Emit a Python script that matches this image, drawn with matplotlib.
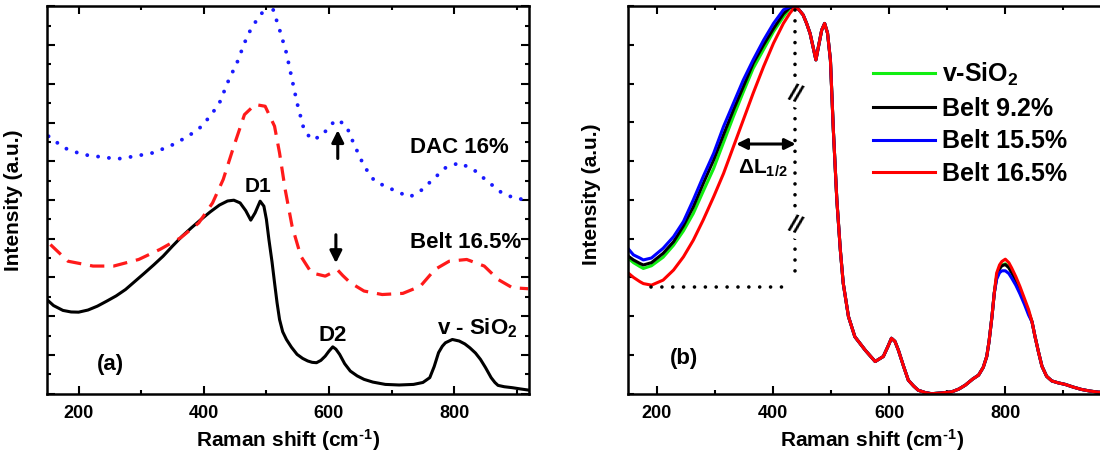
import numpy as np
import matplotlib
matplotlib.use("Agg")
import matplotlib.pyplot as plt
from matplotlib.ticker import MultipleLocator, NullFormatter

plt.rcParams['font.family'] = ['Liberation Sans', 'DejaVu Sans']
plt.rcParams['font.weight'] = 'bold'
plt.rcParams['mathtext.fontset'] = 'custom'
plt.rcParams['mathtext.rm'] = 'Liberation Sans:bold'
plt.rcParams['mathtext.it'] = 'Liberation Sans:bold'
plt.rcParams['mathtext.bf'] = 'Liberation Sans:bold'

# ---- panel (a) data ----
sio2_x = [149, 160, 175, 188, 200, 215, 230, 245, 260, 275, 290, 305, 320, 335, 350, 365, 380,
          395, 410, 425, 438, 448, 458, 467, 475, 482, 490, 496, 500, 504, 509, 513, 517, 521,
          526, 532, 540, 549, 558, 566, 573, 580, 587, 594, 600, 606, 611, 617, 625, 634, 645,
          656, 670, 690, 712, 735, 750, 761, 768, 775, 781, 786, 797, 808, 817, 825, 834, 842,
          850, 859, 865, 870, 880, 893, 905, 918]
sio2_y = [4.87, 4.55, 4.30, 4.22, 4.21, 4.32, 4.52, 4.78, 5.05, 5.38, 5.80, 6.22, 6.65, 7.10,
          7.62, 8.12, 8.56, 8.98, 9.38, 9.74, 9.95, 9.99, 9.85, 9.45, 8.96, 9.34, 9.94, 9.68,
          9.0, 7.96, 6.8, 5.73, 4.7, 3.83, 3.2, 2.80, 2.4, 2.03, 1.82, 1.69, 1.62, 1.60, 1.72,
          1.94, 2.2, 2.42, 2.3, 2.03, 1.55, 1.17, 0.92, 0.74, 0.6, 0.48, 0.45, 0.48, 0.58,
          0.83, 1.4, 2.12, 2.45, 2.63, 2.80, 2.72, 2.57, 2.37, 2.1, 1.77, 1.35, 0.83, 0.58,
          0.43, 0.36, 0.31, 0.25, 0.19]

belt_x = [155, 183, 223, 256, 296, 330, 363, 392, 414, 431, 448, 465, 482, 498, 513, 521, 530,
          541, 555, 572, 594, 605, 614, 622, 634, 656, 685, 718, 746, 769, 792, 820, 848, 870,
          893, 918]
belt_y = [7.70, 6.84, 6.59, 6.59, 6.93, 7.45, 8.05, 8.82, 9.85, 11.06, 12.78, 14.41, 14.93,
          14.84, 13.81, 12.43, 10.54, 8.65, 7.10, 6.24, 6.07, 6.25, 6.38, 6.1, 5.73, 5.30,
          5.12, 5.18, 5.55, 6.41, 6.84, 6.93, 6.59, 5.90, 5.47, 5.42]

dac_x = [152, 177, 206, 234, 262, 290, 318, 346, 375, 397, 414, 425, 439, 454, 465, 476, 487,
         499, 507, 521, 532, 541, 549, 560, 572, 588, 603, 614, 628, 639, 656, 673, 690, 713,
         729, 746, 763, 786, 808, 831, 853, 876, 899, 918]
dac_y = [13.29, 12.69, 12.35, 12.23, 12.12, 12.26, 12.43, 12.78, 13.29, 13.81, 14.50, 15.01,
         16.13, 17.16, 18.11, 18.88, 19.40, 19.91, 20.2, 18.80, 17.59, 16.22, 15.01, 13.64,
         13.12, 13.29, 13.90, 14.15, 13.81, 12.95, 11.75, 10.97, 10.71, 10.37, 10.16, 10.46,
         10.97, 11.66, 11.92, 11.57, 10.97, 10.37, 10.06, 10.03]

# ---- panel (b) data ----
left_x = [148, 160, 171, 177, 191, 211, 229, 246, 263, 280, 298, 315, 332, 349, 366, 384,
          401, 418, 429]
red_left = [3.15, 3.00, 2.89, 2.84, 2.80, 2.93, 3.19, 3.53, 3.96, 4.48, 5.08, 5.68, 6.37,
            7.06, 7.75, 8.44, 9.04, 9.55, 9.81]
blue_left = [3.79, 3.58, 3.50, 3.45, 3.50, 3.75, 4.05, 4.44, 5.00, 5.60, 6.20, 6.89, 7.49,
             8.09, 8.61, 9.12, 9.55, 9.90, 9.98]
black_left = [3.58, 3.45, 3.36, 3.32, 3.38, 3.62, 3.92, 4.33, 4.82, 5.42, 6.03, 6.68, 7.32,
              7.92, 8.52, 9.00, 9.42, 9.80, 9.96]
green_left = [3.53, 3.38, 3.28, 3.23, 3.30, 3.52, 3.83, 4.20, 4.65, 5.22, 5.81, 6.48, 7.15,
              7.78, 8.39, 8.88, 9.34, 9.72, 9.94]

mid_x = [438, 445, 452, 458, 464, 469, 474, 479, 484, 489, 494, 499, 504, 510, 516, 521, 530,
         541, 559, 576, 590, 598, 604, 610, 616, 625, 633, 642, 650, 662, 673, 690, 708, 720,
         731, 744, 754, 762, 768, 772, 777, 781]
mid_y = [9.98, 9.90, 9.77, 9.55, 9.29, 8.95, 8.61, 9.0, 9.38, 9.55, 9.3, 8.6, 6.8, 5.0, 3.71,
         2.85, 1.99, 1.47, 1.12, 0.83, 0.96, 1.22, 1.43, 1.35, 1.12, 0.7, 0.35, 0.2, 0.09,
         0.03, 0.0, 0.02, 0.05, 0.12, 0.22, 0.38, 0.48, 0.68, 0.96, 1.35, 1.99, 2.6]

peak_x = [785, 790, 794, 800, 806, 811, 818, 825, 833, 840]
red_peak = [3.11, 3.32, 3.41, 3.47, 3.38, 3.24, 3.02, 2.77, 2.45, 2.17]
black_peak = [3.0, 3.22, 3.3, 3.33, 3.25, 3.12, 2.92, 2.68, 2.38, 2.1]
green_peak = [3.02, 3.24, 3.32, 3.35, 3.27, 3.14, 2.94, 2.70, 2.40, 2.12]
blue_peak = [2.95, 3.12, 3.17, 3.17, 3.1, 2.98, 2.8, 2.58, 2.3, 2.03]

tail_x = [846, 851, 857, 863, 871, 880, 891, 903, 917, 931, 945, 960, 980, 1000]
tail_y = [1.85, 1.48, 1.08, 0.71, 0.45, 0.33, 0.28, 0.24, 0.17, 0.11, 0.07, 0.04, 0.03, 0.02]

series_names = ['v-SiO$_2$', 'Belt 9.2%', 'Belt 15.5%', 'Belt 16.5%']
series_colors = ['#11ee11', 'black', '#0000ff', '#ff0000']
series_left = [green_left, black_left, blue_left, red_left]
series_peak = [green_peak, black_peak, blue_peak, red_peak]

# guide lines of panel (b)
half_level = 2.76
peak_pos = 438
guide_left = 191
arrow_level = 6.44
arrow_from = 332
break_levels = [7.70, 4.31]

xlabel = r'Raman shift (cm$^{\text{-1}}$)'


def style_axes(ax, ymajor, yminor):
    for s in ax.spines.values():
        s.set_linewidth(1.8)
    ax.xaxis.set_major_locator(MultipleLocator(200))
    ax.xaxis.set_minor_locator(MultipleLocator(100))
    ax.yaxis.set_major_locator(MultipleLocator(ymajor))
    ax.yaxis.set_minor_locator(MultipleLocator(yminor))
    ax.yaxis.set_major_formatter(NullFormatter())
    ax.tick_params(which='both', direction='in', top=True, right=True, width=1.5)
    ax.tick_params(which='major', length=5.5)
    ax.tick_params(which='minor', length=3)
    ax.tick_params(axis='x', labelsize=13, pad=8)
    ax.tick_params(axis='y', left=True, labelleft=False)
    ax.set_xlabel(xlabel, fontsize=15, fontweight='bold', labelpad=4)
    ax.set_ylabel('Intensity (a.u.)', fontsize=15, fontweight='bold')


fig = plt.figure(figsize=(11, 4.57), dpi=100)

# ---------- (a) ----------
ax1 = fig.add_axes([0.043, 0.1385, 0.4382, 0.8477])
ax1.plot(sio2_x, sio2_y, color='black', lw=2.2)
ax1.plot(belt_x, belt_y, color='#ff1a1a', lw=2.3, linestyle=(0, (4.5, 2.8)))
ax1.plot(dac_x, dac_y, color='#1a1aff', lw=2.8, linestyle=(0, (0.01, 2.8)),
         dash_capstyle='round')
ax1.set_xlim(150, 920)
ax1.set_ylim(0, 20)
style_axes(ax1, 2, 1)
ax1.yaxis.set_label_coords(-0.05, 0.5)

ax1.text(730, 12.7, 'DAC 16%', fontsize=16, fontweight='bold', va='center')
ax1.text(730, 7.8, 'Belt 16.5%', fontsize=16, fontweight='bold', va='center')
ax1.text(486, 10.7, 'D1', fontsize=15, fontweight='bold', ha='center', va='center')
ax1.text(606, 3.0, 'D2', fontsize=16, fontweight='bold', ha='center', va='center')
ax1.text(772, 3.4, 'v - SiO$_2$', fontsize=16, fontweight='bold', va='center')
ax1.text(251, 1.5, '(a)', fontsize=16, fontweight='bold', ha='center', va='center')
arrow_kw = dict(arrowstyle='-|>', color='black', lw=2.2, mutation_scale=18)
ax1.annotate('', xy=(614, 13.75), xytext=(614, 12.0), arrowprops=arrow_kw)
ax1.annotate('', xy=(611, 6.6), xytext=(611, 8.35), arrowprops=arrow_kw)

# ---------- (b) ----------
ax2 = fig.add_axes([0.5706, 0.1385, 0.4437, 0.8484])
for name, col, yl, yp in zip(series_names, series_colors, series_left, series_peak):
    xs = left_x + mid_x + peak_x + tail_x
    ys = yl + mid_y + yp + tail_y
    ax2.plot(xs, ys, color=col, lw=2.2, label=name)
ax2.set_xlim(150, 990)
ax2.set_ylim(0, 10)
style_axes(ax2, 1, 1)
ax2.tick_params(axis='y', which='major', length=4)
ax2.yaxis.set_label_coords(-0.055, 0.515)

dot_kw = dict(color='black', lw=2.6, linestyle=(0, (0.01, 3.0)), dash_capstyle='round')
ax2.plot([guide_left, peak_pos - 14], [half_level, half_level], **dot_kw)
ax2.plot([peak_pos, peak_pos], [9.9, 3.02], **dot_kw)
for lvl in break_levels:
    ax2.text(peak_pos, lvl, '//', fontsize=17, fontweight='bold', ha='center',
             va='center', rotation=-20, bbox=dict(facecolor='white', edgecolor='none', pad=0))
ax2.annotate('', xy=(arrow_from, arrow_level), xytext=(peak_pos + 6, arrow_level),
             arrowprops=dict(arrowstyle='<|-|>', color='black', lw=2.2, mutation_scale=16))
ax2.text(340, 5.8, r'$\Delta$L$_{1/2}$', fontsize=15, fontweight='bold', va='center')
ax2.text(247, 0.9, '(b)', fontsize=16, fontweight='bold', ha='center', va='center')

leg = ax2.legend(loc='upper left', bbox_to_anchor=(0.482, 0.885), frameon=False,
                 fontsize=18, handlelength=2.5, handletextpad=0.25, labelspacing=0.35,
                 borderaxespad=0)
for t in leg.get_texts():
    t.set_fontweight('bold')

fig.savefig('out.png', dpi=100)
